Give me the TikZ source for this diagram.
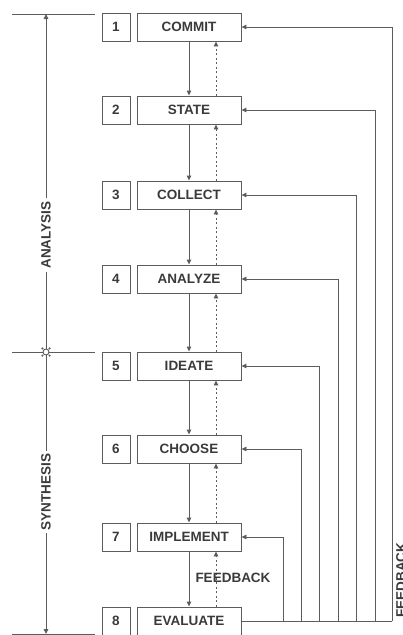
\documentclass[tikz,border=0pt]{standalone}
\usepackage{fontspec}
\setmainfont{Liberation Sans}
\usetikzlibrary{arrows.meta,calc}
\definecolor{ln}{HTML}{5C5C5C}
\definecolor{tx}{HTML}{3A3A3A}
\begin{document}
\begin{tikzpicture}[x=1pt,y=-1pt,line width=0.9pt,
  txt/.style={font=\fontsize{13.5}{14}\selectfont\bfseries,text=tx},
  stepbox/.style={txt,draw=ln,minimum width=104pt,minimum height=28pt,inner sep=0pt},
  numbox/.style={txt,draw=ln,minimum width=28pt,minimum height=28pt,inner sep=0pt},
  flow/.style={draw=ln,-{Triangle[length=5pt,width=4.5pt]}},
  fbk/.style={flow,dash pattern=on 2pt off 2.5pt},
  plain/.style={draw=ln},
  axislbl/.style={txt,rotate=90,fill=white,inner sep=3pt}]
\useasboundingbox (0,0) rectangle (402,635);
% step boxes
\foreach \i/\y/\t in {1/27/COMMIT,2/110/STATE,3/195/COLLECT,4/279/ANALYZE,5/366/IDEATE,6/449/CHOOSE,7/537/IMPLEMENT,8/621/EVALUATE}{
  \node[stepbox] (n\i) at (189,\y) {\t};
  \node[numbox] (k\i) at (116,\y) {\i};
}
% down and dotted up arrows
\foreach \a/\b in {1/2,2/3,3/4,4/5,5/6,6/7,7/8}{
  \draw[flow] (n\a.south) -- (n\b.north);
  \draw[fbk] ([xshift=27pt]n\b.north) -- ([xshift=27pt]n\a.south);
}
\node[txt] (fbl) at (233,578) {FEEDBACK};
% feedback loops
\foreach \i/\x in {1/392,2/375,3/356,4/338,5/319,6/301,7/283}{
  \coordinate (f\i) at (\x,621);
}
\draw[plain] (n8.east) -- (f1);
\foreach \i in {1,...,7}{
  \draw[flow] (f\i) |- (n\i.east);
}
\node[txt,rotate=90] (fbr) at (401,580) {FEEDBACK};
% left axis
\coordinate (tl) at (12,14); \coordinate (tr) at (95,14);
\coordinate (ml) at (12,352); \coordinate (mr) at (95,352);
\coordinate (bl) at (12,634); \coordinate (br) at (95,634);
\coordinate (top) at (46,14); \coordinate (mid) at (46,352); \coordinate (bot) at (46,634);
\draw[plain] (tl) -- (tr);
\draw[plain] (ml) -- (mr);
\draw[plain] (bl) -- (br);
\draw[flow] (mid) -- (top);
\draw[flow] (mid) -- (bot);
\node[axislbl] (an) at (46,235) {ANALYSIS};
\node[axislbl] (sy) at (46,492) {SYNTHESIS};
\draw[plain,fill=white] (mid) circle (3pt);
\foreach \dx/\dy in {1/1,1/-1,-1/1,-1/-1}{
  \fill[ln] ($(mid)+(3.6*\dx,3.6*\dy)$) circle (1.2pt);
}
\end{tikzpicture}
\end{document}
